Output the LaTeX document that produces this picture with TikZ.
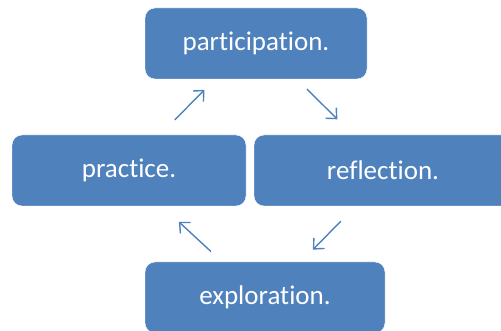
\documentclass[tikz,border=0pt]{standalone}
\usepackage{fontspec}
\setmainfont[Ligatures=NoCommon]{Carlito}
\usetikzlibrary{arrows.meta}
\definecolor{boxblue}{HTML}{4F81BD}
\tikzset{
  stagebox/.style={rectangle,rounded corners=10pt,fill=boxblue,draw=white,thin,
    text=white,font=\fontsize{27}{32}\selectfont,inner sep=0pt},
  cyclearrow/.style={boxblue,line width=1.4pt,-{Straight Barb[length=8pt,width=15pt]}}
}
\begin{document}
\begin{tikzpicture}[x=1pt,y=-1pt]
  \useasboundingbox (0,0) rectangle (501,331);
  \clip (0,0) rectangle (501,331);
  \node[stagebox,minimum width=222pt,minimum height=71pt] (participation) at (256,43.5) {participation.};
  \node[stagebox,minimum width=234pt,minimum height=71pt] (practice) at (129,170.5) {practice.};
  \node[stagebox,minimum width=258pt,minimum height=71pt] (reflection) at (383,170.5) {reflection.};
  \node[stagebox,minimum width=240pt,minimum height=71pt] (exploration) at (265,297.5) {exploration.};
  \draw[cyclearrow,shorten <=21pt,shorten >=15pt] ([xshift=31pt]practice.north) -- ([xshift=-41pt]participation.south);
  \draw[cyclearrow,shorten <=14pt,shorten >=22pt] ([xshift=41pt]participation.south) -- ([xshift=-30pt]reflection.north);
  \draw[cyclearrow,shorten <=21pt,shorten >=17pt] ([xshift=-27.5pt]reflection.south) -- ([xshift=36pt]exploration.north);
  \draw[cyclearrow,shorten <=15pt,shorten >=23pt] ([xshift=-43pt]exploration.north) -- ([xshift=33pt]practice.south);
\end{tikzpicture}
\end{document}
